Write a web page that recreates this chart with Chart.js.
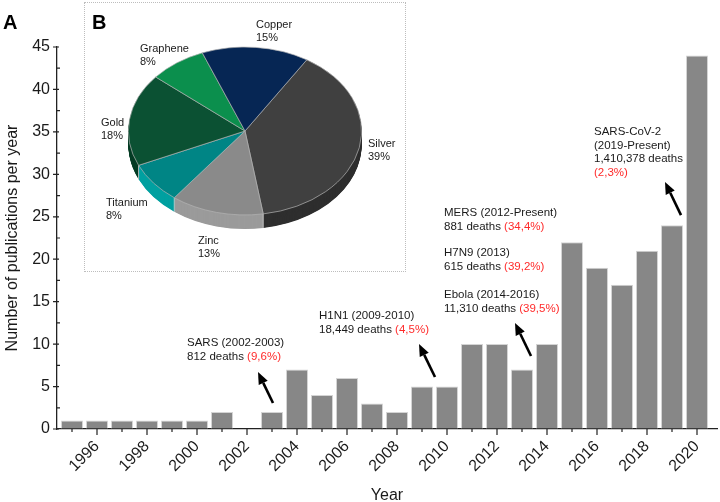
<!DOCTYPE html>
<html>
<head>
<meta charset="utf-8">
<script src="https://cdn.jsdelivr.net/npm/chart.js@4"></script>
<style>
    body { margin: 0; background: #fff; }
    #wrap { position: relative; width: 720px; height: 502px; font-family: "Liberation Sans", Arial, sans-serif; color: #1a1a1a; }
    #main { position: absolute; left: 0; top: 0; }
    #inset { position: absolute; left: 84px; top: 2px; width: 322px; height: 270px; border: 1px dotted #bdbdbd; box-sizing: border-box; }
    #pie { position: absolute; left: 128px; top: 14px; }
    .panel { position: absolute; top: 11px; font-size: 20px; font-weight: bold; color: #000; }
    .lbl { position: absolute; font-size: 11px; line-height: 13px; white-space: nowrap; }
    .note { position: absolute; font-size: 11.5px; line-height: 13.5px; white-space: nowrap; }
    .red { color: #ff2a2a; }
</style>
</head>
<body>
<div id="wrap">
    <canvas id="main" width="720" height="502"></canvas>
    <div id="inset"></div>
    <canvas id="pie" width="234" height="252"></canvas>

    <div class="panel" style="left:3px">A</div>
    <div class="panel" style="left:92px">B</div>

    <div class="lbl" style="left:256px;top:18px">Copper<br>15%</div>
    <div class="lbl" style="left:140px;top:42px">Graphene<br>8%</div>
    <div class="lbl" style="left:101px;top:116px">Gold<br>18%</div>
    <div class="lbl" style="left:368px;top:137px">Silver<br>39%</div>
    <div class="lbl" style="left:106px;top:196px">Titanium<br>8%</div>
    <div class="lbl" style="left:198px;top:234px">Zinc<br>13%</div>

    <div class="note" style="left:187px;top:336px">SARS (2002-2003)<br>812 deaths <span class="red">(9,6%)</span></div>
    <div class="note" style="left:319px;top:309px">H1N1 (2009-2010)<br>18,449 deaths <span class="red">(4,5%)</span></div>
    <div class="note" style="left:444px;top:206px">MERS (2012-Present)<br>881 deaths <span class="red">(34,4%)</span></div>
    <div class="note" style="left:444px;top:246px">H7N9 (2013)<br>615 deaths <span class="red">(39,2%)</span></div>
    <div class="note" style="left:444px;top:288px">Ebola (2014-2016)<br>11,310 deaths <span class="red">(39,5%)</span></div>
    <div class="note" style="left:594px;top:125px">SARS-CoV-2<br>(2019-Present)<br>1,410,378 deaths<br><span class="red">(2,3%)</span></div>
</div>

<script>
/* data */
var years = [1995, 1996, 1997, 1998, 1999, 2000, 2001, 2002, 2003, 2004, 2005, 2006, 2007,
             2008, 2009, 2010, 2011, 2012, 2013, 2014, 2015, 2016, 2017, 2018, 2019, 2020];
var publications = [1, 1, 1, 1, 1, 1, 2, 0, 2, 7, 4, 6, 3, 2, 5, 5, 10, 10, 7, 10, 22, 19, 17, 21, 24, 44];
var yearLabels = ['1996', '1998', '2000', '2002', '2004', '2006', '2008', '2010', '2012', '2014', '2016', '2018', '2020'];
var yTickLabels = ['0', '5', '10', '15', '20', '25', '30', '35', '40', '45'];

var materials = ['Silver', 'Zinc', 'Titanium', 'Gold', 'Graphene', 'Copper'];
var shares = [39, 13, 8, 18, 8, 15];
var topColors = ['#404040', '#8a8a8a', '#008585', '#0b5133', '#0b8f4d', '#062654'];
var sideColors = ['#2f2f2f', '#9b9b9b', '#00a0a0', '#073d26', '#087a40', '#041c40'];

/* arrows: [from year, from value, to year, to value] */
var arrows = [
    [2003.04, 3.06, 2002.44, 6.71],
    [2009.52, 6.13, 2008.88, 10.01],
    [2013.36, 8.60, 2012.72, 12.49],
    [2019.36, 25.2, 2018.72, 29.1]
];

var pieTilt = 0.72;
var pieDepth = 14;

$ = function(id) { return document.getElementById(id); };

/* hand-drawn tick marks: major/minor lengths differ */
var tickMarks = {
    id: 'tickMarks',
    afterDraw: function(chart) {
        var ctx = chart.ctx, xs = chart.scales.x, ys = chart.scales.y;
        var area = chart.chartArea;
        ctx.save();
        ctx.strokeStyle = '#222';
        ctx.lineWidth = 1.2;
        ctx.beginPath();
        for (var i = 0; i < years.length; i++) {
            var px = xs.getPixelForValue(years[i]);
            var len = yearLabels.indexOf(String(years[i])) >= 0 ? 6 : 3;
            ctx.moveTo(px, area.bottom);
            ctx.lineTo(px, area.bottom + len);
        }
        for (var v = 0; v <= 45; v += 2.5) {
            var py = ys.getPixelForValue(v);
            if (v % 5 === 0) {
                ctx.moveTo(area.left - 4, py);
                ctx.lineTo(area.left + 2, py);
            } else {
                ctx.moveTo(area.left, py);
                ctx.lineTo(area.left + 3, py);
            }
        }
        ctx.stroke();
        ctx.restore();
    }
};

/* arrows pointing at the outbreaks */
var arrowPlugin = {
    id: 'arrowPlugin',
    afterDatasetsDraw: function(chart) {
        var ctx = chart.ctx, xs = chart.scales.x, ys = chart.scales.y;
        ctx.save();
        ctx.strokeStyle = '#000';
        ctx.fillStyle = '#000';
        ctx.lineWidth = 2.6;
        arrows.forEach(function(a) {
            var x0 = xs.getPixelForValue(a[0]), y0 = ys.getPixelForValue(a[1]);
            var x1 = xs.getPixelForValue(a[2]), y1 = ys.getPixelForValue(a[3]);
            var ang = Math.atan2(y1 - y0, x1 - x0);
            var hl = 12, hw = 5;
            var bx = x1 - hl * Math.cos(ang), by = y1 - hl * Math.sin(ang);
            ctx.beginPath();
            ctx.moveTo(x0, y0);
            ctx.lineTo(bx, by);
            ctx.stroke();
            ctx.beginPath();
            ctx.moveTo(x1, y1);
            ctx.lineTo(bx + hw * Math.sin(ang), by - hw * Math.cos(ang));
            ctx.lineTo(bx - hw * Math.sin(ang), by + hw * Math.cos(ang));
            ctx.closePath();
            ctx.fill();
        });
        ctx.restore();
    }
};

function drawBarChart() {
    var points = years.map(function(y, i) { return { x: y, y: publications[i] }; });
    new Chart($('main').getContext('2d'), {
        type: 'bar',
        data: {
            datasets: [{
                data: points,
                backgroundColor: '#878787',
                borderColor: '#d4d4d4',
                borderWidth: 1,
                barPercentage: 0.88,
                categoryPercentage: 1
            }]
        },
        options: {
            responsive: false,
            animation: false,
            events: [],
            layout: { padding: { top: 47, right: 3, left: 0, bottom: 0 } },
            plugins: { legend: { display: false }, tooltip: { enabled: false } },
            scales: {
                x: {
                    type: 'linear',
                    min: 1994.4,
                    max: 2020.8,
                    offset: false,
                    afterFit: function(s) { s.height = 73; },
                    grid: { offset: false, drawOnChartArea: false, drawTicks: true, tickLength: 6, tickColor: 'rgba(0,0,0,0)' },
                    border: { display: true, color: '#222', width: 1.3 },
                    ticks: {
                        stepSize: 1,
                        autoSkip: false,
                        includeBounds: false,
                        minRotation: 45,
                        maxRotation: 45,
                        padding: 2,
                        color: '#1a1a1a',
                        font: { family: 'Liberation Sans', size: 16 },
                        callback: function(v) {
                            var s = String(v);
                            return yearLabels.indexOf(s) >= 0 ? s : '';
                        }
                    },
                    title: {
                        display: true,
                        text: 'Year',
                        color: '#1a1a1a',
                        font: { family: 'Liberation Sans', size: 16 },
                        padding: { top: 0, bottom: -3.5 }
                    }
                },
                y: {
                    min: 0,
                    max: 45,
                    afterFit: function(s) { s.width = 57; },
                    grid: { drawOnChartArea: false, drawTicks: true, tickLength: 4, tickColor: 'rgba(0,0,0,0)' },
                    border: { display: true, color: '#222', width: 1.3 },
                    ticks: {
                        stepSize: 5,
                        padding: 3,
                        color: '#1a1a1a',
                        font: { family: 'Liberation Sans', size: 16 },
                        callback: function(v) {
                            var s = String(v);
                            return yTickLabels.indexOf(s) >= 0 ? s : '';
                        }
                    },
                    title: {
                        display: true,
                        text: 'Number of publications per year',
                        color: '#1a1a1a',
                        font: { family: 'Liberation Sans', size: 16 },
                        padding: { top: 3, bottom: 0 }
                    }
                }
            }
        },
        plugins: [tickMarks, arrowPlugin]
    });
}

/* fake 3D: squash the pie and stack its side below it */
var tiltPlugin = {
    id: 'tiltPlugin',
    beforeDatasetsDraw: function(chart) {
        var ctx = chart.ctx;
        var arcs = chart.getDatasetMeta(0).data;
        var cy = arcs[0].y;
        ctx.save();
        ctx.translate(0, cy);
        ctx.scale(1, pieTilt);
        ctx.translate(0, -cy);
        for (var d = pieDepth; d >= 1; d -= 0.5) {
            var off = d / pieTilt;
            arcs.forEach(function(a, i) {
                ctx.beginPath();
                ctx.moveTo(a.x, a.y + off);
                ctx.arc(a.x, a.y + off, a.outerRadius, a.startAngle, a.endAngle);
                ctx.closePath();
                ctx.fillStyle = sideColors[i];
                ctx.fill();
            });
        }
        // light seams where slices meet on the front side
        ctx.strokeStyle = '#cfcfcf';
        ctx.lineWidth = 1;
        arcs.forEach(function(a) {
            var s = Math.sin(a.startAngle);
            if (s > 0.05) {
                var ex = a.x + a.outerRadius * Math.cos(a.startAngle);
                var ey = a.y + a.outerRadius * s;
                ctx.beginPath();
                ctx.moveTo(ex, ey);
                ctx.lineTo(ex, ey + pieDepth / pieTilt);
                ctx.stroke();
            }
        });
    },
    afterDatasetsDraw: function(chart) {
        chart.ctx.restore();
    }
};

function drawPieChart() {
    new Chart($('pie').getContext('2d'), {
        type: 'pie',
        data: {
            labels: materials,
            datasets: [{
                data: shares,
                backgroundColor: topColors,
                borderColor: '#b5b5b5',
                borderWidth: 0.8,
                clip: false
            }]
        },
        options: {
            responsive: false,
            animation: false,
            events: [],
            rotation: 32,
            layout: { padding: { top: 0, left: 0, right: 0, bottom: 18 } },
            plugins: { legend: { display: false }, tooltip: { enabled: false } }
        },
        plugins: [tiltPlugin]
    });
}

drawBarChart();
drawPieChart();
</script>
</body>
</html>
